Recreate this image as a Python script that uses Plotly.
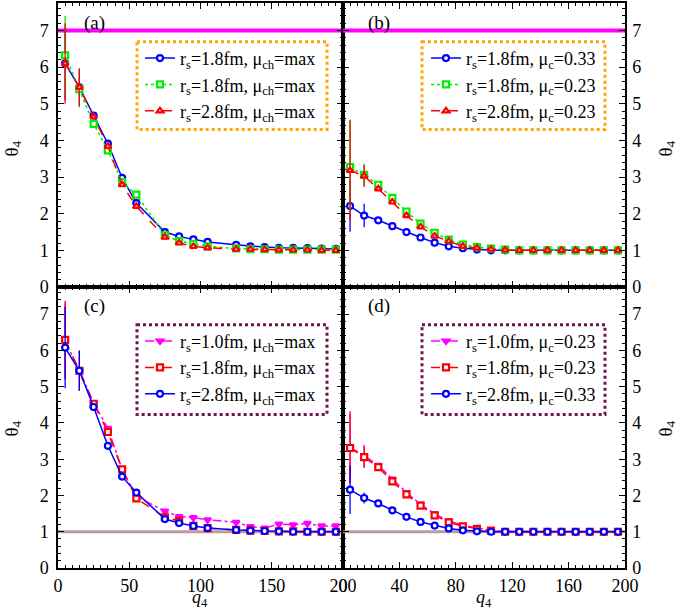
import plotly.graph_objects as go
from plotly.subplots import make_subplots

# ---------------- data ----------------
q_ab = [5, 15, 25, 35, 45, 55, 75, 85, 95, 105, 125, 135, 145, 155, 165, 175, 185, 195]
q_bd = [5, 15, 25, 35, 45, 55, 65, 75, 85, 95, 105, 115, 125, 135, 145, 155, 165, 175, 185, 195]

# panel (a)
a_blue = [6.10, 5.45, 4.68, 3.91, 2.98, 2.29, 1.50, 1.38, 1.30, 1.23, 1.15, 1.11, 1.09, 1.07, 1.07, 1.06, 1.05, 1.04]
a_blue_ep = [1.00, 0.50] + [0] * 16
a_green = [6.32, 5.40, 4.45, 3.73, 2.86, 2.52, 1.41, 1.25, 1.18, 1.11, 1.05, 1.03, 1.03, 1.02, 1.02, 1.02, 1.02, 1.02]
a_green_ep = [1.08, 0.50] + [0] * 16
a_red = [6.10, 5.45, 4.64, 3.84, 2.79, 2.20, 1.36, 1.20, 1.11, 1.07, 1.03, 1.03, 1.02, 1.01, 1.01, 1.01, 1.00, 1.00]
a_red_ep = [1.10, 0.52] + [0] * 16

# panel (b)
b_blue = [2.21, 1.95, 1.82, 1.66, 1.50, 1.35, 1.21, 1.11, 1.06, 1.02, 1.00, 1.00, 1.00, 1.00, 1.00, 1.00, 1.00, 1.00, 1.00, 1.00]
b_blue_ep = [0.70, 0.32] + [0] * 18
b_green = [3.27, 3.06, 2.79, 2.43, 2.06, 1.73, 1.48, 1.29, 1.16, 1.09, 1.05, 1.02, 1.00, 1.00, 1.00, 1.00, 1.00, 1.00, 1.00, 1.00]
b_green_ep = [1.30, 0.30] + [0] * 18
b_red = [3.18, 3.03, 2.68, 2.32, 1.95, 1.64, 1.39, 1.25, 1.11, 1.06, 1.03, 1.01, 1.00, 1.00, 1.00, 1.00, 1.00, 1.00, 1.00, 1.00]
b_red_ep = [1.37, 0.30] + [0] * 18

# panel (c)
c_mag = [6.25, 5.45, 4.55, 3.85, 2.72, 1.97, 1.57, 1.42, 1.39, 1.33, 1.26, 1.14, 1.10, 1.21, 1.19, 1.23, 1.16, 1.16]
c_mag_ep = [1.05, 0.55] + [0] * 16
c_red = [6.29, 5.44, 4.53, 3.75, 2.72, 1.92, 1.40, 1.30, 1.16, 1.10, 1.05, 1.03, 1.02, 1.01, 1.01, 1.00, 1.00, 1.00]
c_red_ep = [1.08, 0.55] + [0] * 16
c_blue = [6.08, 5.44, 4.44, 3.37, 2.52, 2.08, 1.35, 1.24, 1.16, 1.10, 1.05, 1.03, 1.02, 1.01, 1.00, 1.00, 1.00, 1.00]
c_blue_ep = [1.12, 0.55] + [0] * 16

# panel (d)
d_mag = [3.33, 3.10, 2.83, 2.45, 2.08, 1.76, 1.49, 1.30, 1.18, 1.10, 1.04, 1.01, 1.00, 1.00, 1.00, 1.00, 1.00, 1.00, 1.00, 1.00]
d_mag_ep = [1.00, 0.30] + [0] * 18
d_red = [3.31, 3.06, 2.78, 2.39, 2.03, 1.72, 1.45, 1.26, 1.15, 1.08, 1.03, 1.00, 1.00, 1.00, 1.00, 1.00, 1.00, 1.00, 1.00, 1.00]
d_red_ep = [0.95, 0.30] + [0] * 18
d_blue = [2.16, 1.93, 1.78, 1.59, 1.41, 1.27, 1.17, 1.09, 1.04, 1.01, 1.00, 1.00, 1.00, 1.00, 1.00, 1.00, 1.00, 1.00, 1.00, 1.00]
d_blue_ep = [0.67, 0.15] + [0] * 18

ref_top = 7.0
ref_bottom = 1.0

# ---------------- figure ----------------
FONT = "Liberation Serif"
BLUE, GREEN, RED, MAG = "#0000ff", "#00ee00", "#ff0000", "#ff00ff"
ORANGE, PURPLE = "#ffa500", "#6e1550"

fig = make_subplots(rows=2, cols=2, horizontal_spacing=0, vertical_spacing=0)

def add(x, y, ep, color, dash, symbol, name, row, col, legend, filled=False):
    fig.add_trace(go.Scatter(
        x=x, y=y, mode="lines+markers", name=name, legend=legend,
        line=dict(color=color, width=1.5, dash=dash),
        marker=dict(symbol=symbol, size=6, color=color if filled else "white",
                    line=dict(color=color, width=2.2)),
        error_y=dict(type="data", array=ep, arrayminus=ep, color=color,
                     thickness=1.3, width=0, visible=True),
    ), row=row, col=col)

def ref_line(yv, color, width, row, col):
    fig.add_trace(go.Scatter(x=[0, 200], y=[yv, yv], mode="lines", showlegend=False,
                             line=dict(color=color, width=width), hoverinfo="skip"),
                  row=row, col=col)

ref_line(ref_top, MAG, 4, 1, 1)
ref_line(ref_top, MAG, 4, 1, 2)
ref_line(ref_bottom, "#c09a9a", 3, 2, 1)
ref_line(ref_bottom, "#c09a9a", 3, 2, 2)

lab_ch = "r<sub>s</sub>={}fm, μ<sub>ch</sub>=max"
lab_c = "r<sub>s</sub>={}fm, μ<sub>c</sub>={}"

add(q_ab, a_blue, a_blue_ep, BLUE, "solid", "circle", lab_ch.format("1.8"), 1, 1, "legend")
add(q_ab, a_green, a_green_ep, GREEN, "dot", "square", lab_ch.format("1.8"), 1, 1, "legend")
add(q_ab, a_red, a_red_ep, RED, "dash", "triangle-up", lab_ch.format("2.8"), 1, 1, "legend")

add(q_bd, b_blue, b_blue_ep, BLUE, "solid", "circle", lab_c.format("1.8", "0.33"), 1, 2, "legend2")
add(q_bd, b_green, b_green_ep, GREEN, "dot", "square", lab_c.format("1.8", "0.23"), 1, 2, "legend2")
add(q_bd, b_red, b_red_ep, RED, "dash", "triangle-up", lab_c.format("2.8", "0.23"), 1, 2, "legend2")

add(q_ab, c_mag, c_mag_ep, MAG, "dashdot", "triangle-down", lab_ch.format("1.0"), 2, 1, "legend3", filled=True)
add(q_ab, c_red, c_red_ep, RED, "dash", "square", lab_ch.format("1.8"), 2, 1, "legend3")
add(q_ab, c_blue, c_blue_ep, BLUE, "solid", "circle", lab_ch.format("2.8"), 2, 1, "legend3")

add(q_bd, d_mag, d_mag_ep, MAG, "dashdot", "triangle-down", lab_c.format("1.0", "0.23"), 2, 2, "legend4", filled=True)
add(q_bd, d_red, d_red_ep, RED, "dash", "square", lab_c.format("1.8", "0.23"), 2, 2, "legend4")
add(q_bd, d_blue, d_blue_ep, BLUE, "solid", "circle", lab_c.format("2.8", "0.33"), 2, 2, "legend4")

W, H = 685, 612
L, R, T, B = 58, 60, 1, 44
pw, ph = W - L - R, H - T - B
xsplit = (343 - L) / pw
ysplit = (H - B - 286) / ph

axcommon = dict(showline=True, linecolor="black", linewidth=1.5, mirror="allticks",
                ticks="inside", ticklen=6, tickwidth=1.2, tickcolor="black",
                showgrid=False, zeroline=False,
                tickfont=dict(family=FONT, size=18, color="black"))

fig.update_xaxes(range=[0, 200], **axcommon)
fig.update_yaxes(range=[0, 7.75], dtick=1, tick0=0,
                 minor=dict(ticks="inside", dtick=0.2, ticklen=3, tickcolor="black", tickwidth=1),
                 **axcommon)

fig.update_xaxes(domain=[0, xsplit], dtick=50, tick0=0,
                 minor=dict(ticks="inside", dtick=5, ticklen=3, tickcolor="black", tickwidth=1),
                 col=1)
fig.update_xaxes(domain=[xsplit, 1], dtick=40, tick0=0,
                 minor=dict(ticks="inside", dtick=5, ticklen=3, tickcolor="black", tickwidth=1),
                 col=2)
fig.update_xaxes(showticklabels=False, row=1)
fig.update_xaxes(showticklabels=True, ticklabelstandoff=1, row=2)
fig.update_yaxes(domain=[ysplit, 1], row=1)
fig.update_yaxes(domain=[0, ysplit], row=2)
fig.update_yaxes(side="left", ticklabelstandoff=4, col=1)
fig.update_yaxes(side="right", ticklabelstandoff=2, col=2)

def legend_cfg(x0, y0):
    return dict(x=(x0 - L) / pw, y=1 - (y0 - T) / ph, xanchor="left", yanchor="top",
                xref="paper", yref="paper", bgcolor="rgba(255,255,255,0)",
                borderwidth=0, font=dict(family=FONT, size=18, color="black"),
                tracegroupgap=0, itemwidth=30)

fig.update_layout(
    width=W, height=H, margin=dict(l=L, r=R, t=T, b=B),
    paper_bgcolor="white", plot_bgcolor="white",
    legend=legend_cfg(140, 38),
    legend2=legend_cfg(426, 38),
    legend3=legend_cfg(140, 322),
    legend4=legend_cfg(426, 322),
)

def box(x0, y0, x1, y1, color):
    fig.add_shape(type="rect", xref="paper", yref="paper",
                  x0=(x0 - L) / pw, x1=(x1 - L) / pw,
                  y0=1 - (y0 - T) / ph, y1=1 - (y1 - T) / ph,
                  line=dict(color=color, width=3, dash="dot"))

box(137, 40, 327, 128, ORANGE)
box(422, 40, 605, 128, ORANGE)
box(137, 324, 327, 414, PURPLE)
box(422, 324, 605, 414, PURPLE)

def ann(text, x, y, size, angle=0, yanchor="middle"):
    fig.add_annotation(text=text, x=(x - L) / pw, y=1 - (y - T) / ph, xref="paper", yref="paper",
                       showarrow=False, textangle=angle, xanchor="center", yanchor=yanchor,
                       font=dict(family=FONT, size=size, color="black"))

ann("(a)", 94, 21, 19)
ann("(b)", 379, 21, 19)
ann("(c)", 94, 305, 19)
ann("(d)", 379, 305, 19)
ann("θ<sub>4</sub>", 13, 147, 19, -90)
ann("θ<sub>4</sub>", 13, 428, 19, -90)
ann("θ<sub>4</sub>", 667, 147, 19, -90)
ann("θ<sub>4</sub>", 667, 428, 19, -90)
ann("<i>q</i><sub>4</sub>", 200, 612, 18, yanchor="bottom")
ann("<i>q</i><sub>4</sub>", 484, 612, 18, yanchor="bottom")

fig.write_html("out.html", config={"displayModeBar": False},
               post_script="document.body.style.margin='0px';")
